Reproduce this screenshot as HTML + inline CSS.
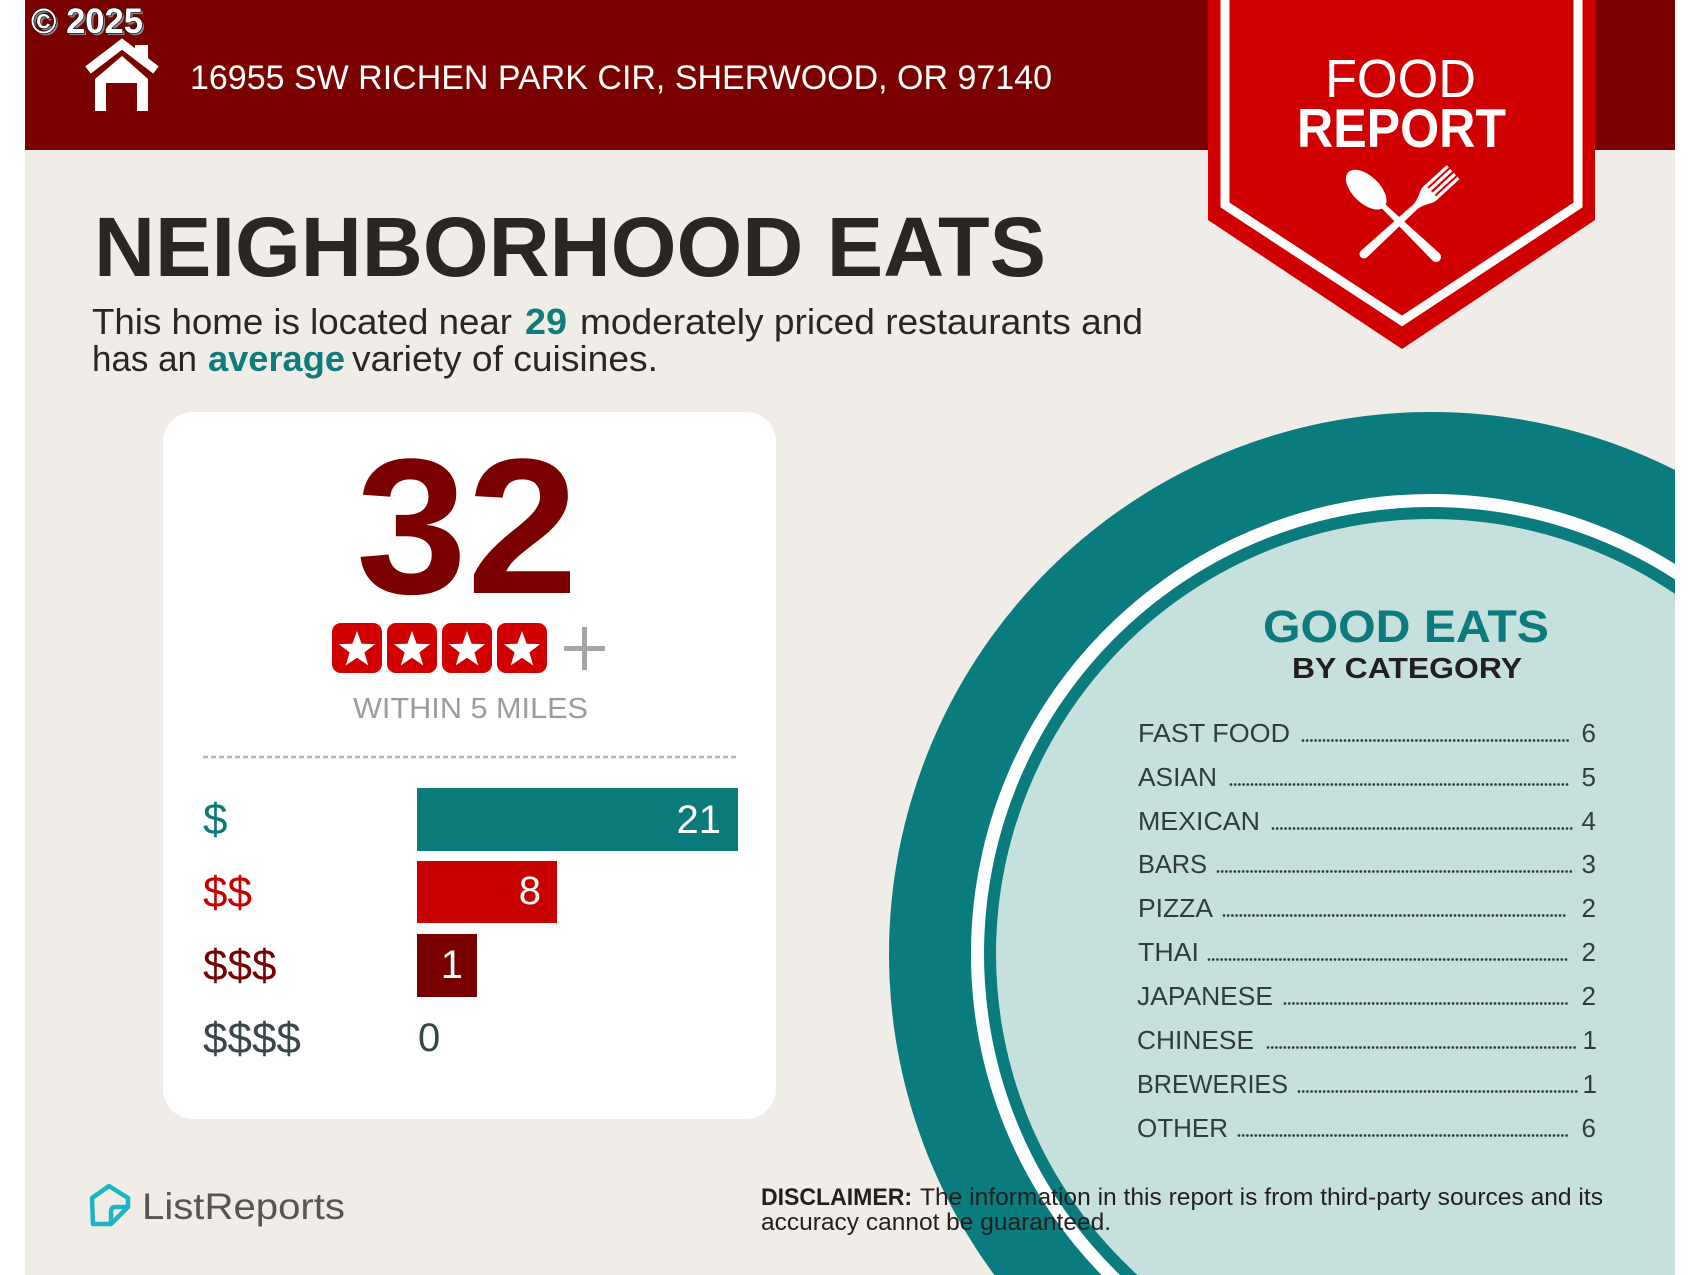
<!DOCTYPE html>
<html>
<head>
<meta charset="utf-8">
<style>
  html,body{margin:0;padding:0;background:#ffffff;overflow:hidden;}
  body{width:1700px;height:1275px;overflow:hidden;}
  svg{display:block;overflow:hidden;}
  text{font-family:"Liberation Sans", Arial, sans-serif;}
</style>
</head>
<body>
<svg width="1700" height="1275" viewBox="0 0 1700 1275" xmlns="http://www.w3.org/2000/svg">

  <!-- background -->
  <rect x="0" y="0" width="1700" height="1275" fill="#ffffff"/>
  <rect x="25" y="0" width="1650" height="1275" fill="#f0ece8"/>

  <!-- top bar -->
  <rect x="25" y="0" width="1650" height="150" fill="#7b0000"/>

  <!-- copyright -->
  <text x="33" y="35" font-size="35" font-weight="bold" fill="#888" textLength="112" lengthAdjust="spacingAndGlyphs">© 2025</text>
  <text x="31" y="33" font-size="35" font-weight="bold" fill="#ffffff" stroke="#111" stroke-width="1.5" paint-order="stroke" textLength="112" lengthAdjust="spacingAndGlyphs">© 2025</text>

  <!-- house icon -->
  <g fill="#ffffff">
    <polyline points="88,70 122,44 156,70" fill="none" stroke="#ffffff" stroke-width="9" stroke-linejoin="miter"/>
    <rect x="135" y="45" width="13" height="15"/>
    <path d="M95,79 L122,56 L148,79 L148,111 L137,111 L137,83 L106,83 L106,111 L95,111 Z"/>
  </g>

  <!-- address -->
  <text x="190" y="89" font-size="34" fill="#ffffff" textLength="862" lengthAdjust="spacingAndGlyphs">16955 SW RICHEN PARK CIR, SHERWOOD, OR 97140</text>

  <!-- banner -->
  <path d="M1208,0 L1208,220 L1402,349 L1595,220 L1595,0 Z" fill="#d10000"/>
  <polyline points="1225,0 1225,205 1402,321 1578,205 1578,0" fill="none" stroke="#ffffff" stroke-width="9" stroke-linejoin="miter"/>
  <text x="1325" y="97" font-size="54" fill="#ffffff" textLength="151" lengthAdjust="spacingAndGlyphs">FOOD</text>
  <text x="1297" y="147" font-size="55" font-weight="bold" fill="#ffffff" textLength="209" lengthAdjust="spacingAndGlyphs">REPORT</text>

  <!-- fork -->
  <g transform="translate(1364,254) rotate(-42.6)" fill="#ffffff">
    <path d="M0,-4.5 L72,-3 L72,3 L0,4.5 A4.5,4.5 0 0 1 0,-4.5 Z"/>
    <path d="M70,-3 C78,-4 84,-9 88,-9.5 L92,-9.5 L92,9.5 L88,9.5 C84,9 78,4 70,3 Z"/>
    <rect x="90" y="-9.5" width="31" height="3.2"/>
    <rect x="90" y="-4.3" width="31" height="3.2"/>
    <rect x="90" y="1.1" width="31" height="3.2"/>
    <rect x="90" y="6.3" width="31" height="3.2"/>
  </g>
  <!-- spoon -->
  <g transform="translate(1436,257) rotate(-136)" fill="#ffffff">
    <path d="M0,-5 L68,-2.8 L76,-2.5 L76,2.5 L68,2.8 L0,5 A5,5 0 0 1 0,-5 Z"/>
    <ellipse cx="97" cy="0" rx="25" ry="13.5"/>
  </g>

  <!-- headline -->
  <text x="94" y="276" font-size="84" font-weight="bold" fill="#2b2625" textLength="952" lengthAdjust="spacingAndGlyphs">NEIGHBORHOOD EATS</text>

  <!-- subtitle -->
  <text x="92" y="334" font-size="36" fill="#2b2625" textLength="420" lengthAdjust="spacingAndGlyphs">This home is located near</text>
  <text x="525" y="334" font-size="36" font-weight="bold" fill="#0e7c7b" textLength="42" lengthAdjust="spacingAndGlyphs">29</text>
  <text x="580" y="334" font-size="36" fill="#2b2625" textLength="563" lengthAdjust="spacingAndGlyphs">moderately priced restaurants and</text>
  <text x="92" y="371" font-size="36" fill="#2b2625" textLength="105" lengthAdjust="spacingAndGlyphs">has an</text>
  <text x="208" y="371" font-size="36" font-weight="bold" fill="#0e7c7b" textLength="137" lengthAdjust="spacingAndGlyphs">average</text>
  <text x="352" y="371" font-size="36" fill="#2b2625" textLength="306" lengthAdjust="spacingAndGlyphs">variety of cuisines.</text>

  <!-- card -->
  <rect x="163" y="412" width="613" height="707" rx="30" ry="30" fill="#ffffff"/>
  <text x="356" y="593" font-size="193" font-weight="bold" fill="#7b0000" textLength="222" lengthAdjust="spacingAndGlyphs">32</text>

  <!-- stars -->
  <g>
    <rect x="332" y="623" width="50" height="50" rx="9" fill="#d10000"/>
    <rect x="387" y="623" width="50" height="50" rx="9" fill="#d10000"/>
    <rect x="442" y="623" width="50" height="50" rx="9" fill="#d10000"/>
    <rect x="497" y="623" width="50" height="50" rx="9" fill="#d10000"/>
    <g fill="#ffffff">
      <path transform="translate(357,650)" d="M0,-19 L4.6,-6.3 L18.1,-5.9 L7.4,2.4 L11.2,15.4 L0,7.8 L-11.2,15.4 L-7.4,2.4 L-18.1,-5.9 L-4.6,-6.3 Z"/>
      <path transform="translate(412,650)" d="M0,-19 L4.6,-6.3 L18.1,-5.9 L7.4,2.4 L11.2,15.4 L0,7.8 L-11.2,15.4 L-7.4,2.4 L-18.1,-5.9 L-4.6,-6.3 Z"/>
      <path transform="translate(467,650)" d="M0,-19 L4.6,-6.3 L18.1,-5.9 L7.4,2.4 L11.2,15.4 L0,7.8 L-11.2,15.4 L-7.4,2.4 L-18.1,-5.9 L-4.6,-6.3 Z"/>
      <path transform="translate(522,650)" d="M0,-19 L4.6,-6.3 L18.1,-5.9 L7.4,2.4 L11.2,15.4 L0,7.8 L-11.2,15.4 L-7.4,2.4 L-18.1,-5.9 L-4.6,-6.3 Z"/>
    </g>
    <rect x="564" y="646" width="41" height="5" fill="#a6a6a6"/>
    <rect x="582" y="627" width="5" height="43" fill="#a6a6a6"/>
  </g>

  <text x="353" y="718" font-size="29" fill="#9c9c9c" textLength="235" lengthAdjust="spacingAndGlyphs">WITHIN 5 MILES</text>

  <line x1="203" y1="757" x2="738" y2="757" stroke="#b3b3b3" stroke-width="2.5" stroke-dasharray="5 3"/>

  <!-- bars -->
  <rect x="417" y="788" width="321" height="63" fill="#0a7a7a"/>
  <text x="721" y="833" font-size="40" fill="#ffffff" text-anchor="end">21</text>
  <rect x="417" y="861" width="140" height="62" fill="#c80000"/>
  <text x="541" y="904" font-size="40" fill="#ffffff" text-anchor="end">8</text>
  <rect x="417" y="934" width="60" height="63" fill="#780000"/>
  <text x="463" y="978" font-size="40" fill="#ffffff" text-anchor="end">1</text>
  <text x="418" y="1051" font-size="40" fill="#37474a">0</text>

  <text x="203" y="834" font-size="44" fill="#0a7a7a">$</text>
  <text x="203" y="907" font-size="44" fill="#c80000">$$</text>
  <text x="203" y="980" font-size="44" fill="#780000">$$$</text>
  <text x="203" y="1053" font-size="44" fill="#37474a">$$$$</text>

  <!-- circle (pre-clipped to the frame) -->
  <path d="M994.3,1275 A542,542 0 0 1 1675,470 L1675,1275 Z" fill="#0a7b7e"/>
  <path d="M1101.5,1275 A460,460 0 0 1 1675,564.05 L1675,1275 Z" fill="#ffffff"/>
  <path d="M1119.93,1275 A447,447 0 0 1 1675,579.47 L1675,1275 Z" fill="#0a7b7e"/>
  <path d="M1137.43,1275 A435,435 0 0 1 1675,593.88 L1675,1275 Z" fill="#c6e0de"/>

  <text x="1263" y="642" font-size="45" font-weight="bold" fill="#0b7b7d" textLength="286" lengthAdjust="spacingAndGlyphs">GOOD EATS</text>
  <text x="1292" y="678" font-size="29" font-weight="bold" fill="#231f20" textLength="230" lengthAdjust="spacingAndGlyphs">BY CATEGORY</text>

  <!-- category list -->
  <g font-size="26" fill="#2f3d3d">
    <text x="1138" y="742" textLength="152" lengthAdjust="spacingAndGlyphs">FAST FOOD</text>
    <text x="1138" y="786" textLength="79" lengthAdjust="spacingAndGlyphs">ASIAN</text>
    <text x="1138" y="830" textLength="122" lengthAdjust="spacingAndGlyphs">MEXICAN</text>
    <text x="1138" y="873" textLength="69" lengthAdjust="spacingAndGlyphs">BARS</text>
    <text x="1138" y="917" textLength="75" lengthAdjust="spacingAndGlyphs">PIZZA</text>
    <text x="1138" y="961" textLength="61" lengthAdjust="spacingAndGlyphs">THAI</text>
    <text x="1137" y="1005" textLength="136" lengthAdjust="spacingAndGlyphs">JAPANESE</text>
    <text x="1137" y="1049" textLength="117" lengthAdjust="spacingAndGlyphs">CHINESE</text>
    <text x="1137" y="1093" textLength="151" lengthAdjust="spacingAndGlyphs">BREWERIES</text>
    <text x="1137" y="1137" textLength="91" lengthAdjust="spacingAndGlyphs">OTHER</text>

    <g text-anchor="end">
      <text x="1596" y="742">6</text>
      <text x="1596" y="786">5</text>
      <text x="1596" y="830">4</text>
      <text x="1596" y="873">3</text>
      <text x="1596" y="917">2</text>
      <text x="1596" y="961">2</text>
      <text x="1596" y="1005">2</text>
      <text x="1597" y="1049">1</text>
      <text x="1597" y="1093">1</text>
      <text x="1596" y="1137">6</text>
    </g>
  </g>
  <g stroke="#2f3d3d" stroke-width="2.7" stroke-linecap="round" stroke-dasharray="0 4.2">
    <line x1="1303" y1="740.5" x2="1568" y2="740.5"/>
    <line x1="1231" y1="784.5" x2="1568" y2="784.5"/>
    <line x1="1273" y1="828.5" x2="1572" y2="828.5"/>
    <line x1="1218" y1="871.5" x2="1572" y2="871.5"/>
    <line x1="1224" y1="915.5" x2="1568" y2="915.5"/>
    <line x1="1209" y1="959.5" x2="1568" y2="959.5"/>
    <line x1="1285" y1="1003.5" x2="1568" y2="1003.5"/>
    <line x1="1268" y1="1047.5" x2="1578" y2="1047.5"/>
    <line x1="1299" y1="1091.5" x2="1578" y2="1091.5"/>
    <line x1="1239" y1="1135.5" x2="1568" y2="1135.5"/>
  </g>

  <!-- logo -->
  <g fill="none" stroke="#1bb5c6" stroke-width="4.5" stroke-linejoin="round" stroke-linecap="round">
    <path d="M110,1224 L93,1224 L92,1198 L109,1186 L128,1198 L128,1207 L115,1207 Q111,1207 111,1212 L111,1224 Z"/>
    <path d="M111,1224 L128,1207"/>
  </g>
  <text x="142" y="1219" font-size="37" fill="#555555" textLength="203" lengthAdjust="spacingAndGlyphs">ListReports</text>

  <!-- disclaimer -->
  <text x="761" y="1205" font-size="24" font-weight="bold" fill="#231f20" textLength="151" lengthAdjust="spacingAndGlyphs">DISCLAIMER:</text>
  <text x="920" y="1205" font-size="24" fill="#231f20" textLength="683" lengthAdjust="spacingAndGlyphs">The information in this report is from third-party sources and its</text>
  <text x="761" y="1230" font-size="24" fill="#231f20" textLength="350" lengthAdjust="spacingAndGlyphs">accuracy cannot be guaranteed.</text>
</svg>
</body>
</html>
